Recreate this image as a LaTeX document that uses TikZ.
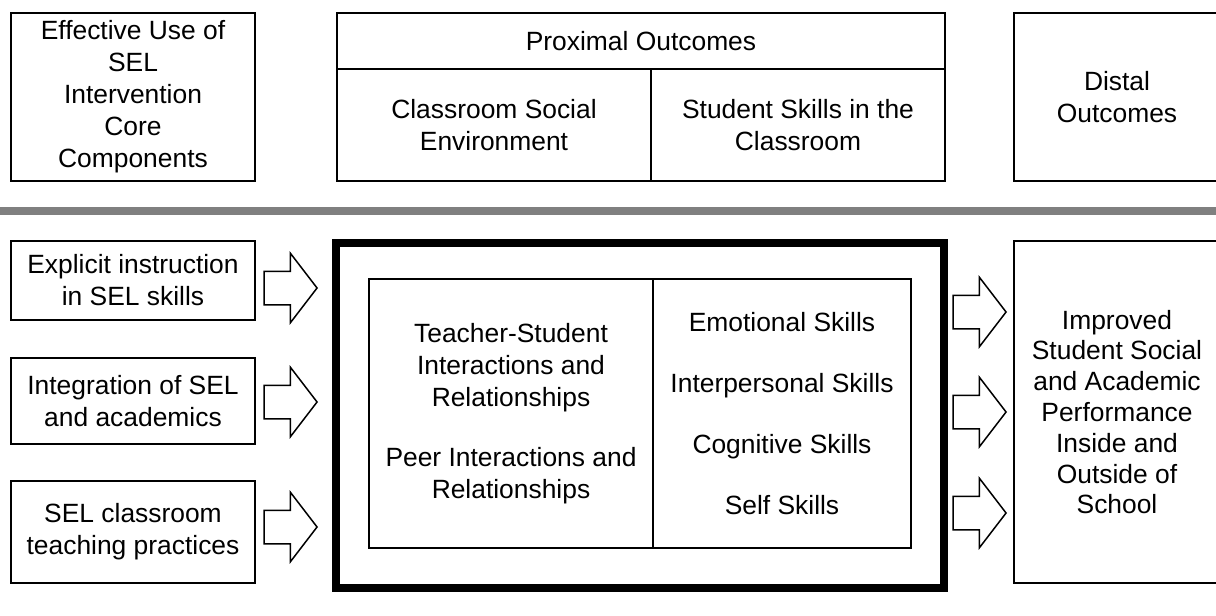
\documentclass[tikz,border=0pt]{standalone}
\usepackage{fontspec}
\setmainfont{Liberation Sans}
\usetikzlibrary{shapes.arrows}
\tikzset{
  box/.style={draw, line width=1pt, inner sep=0pt, align=center,
    font=\fontsize{13.2pt}{16pt}\selectfont},
  fat/.style={single arrow, draw, line width=0.75pt, inner xsep=0pt, inner ysep=8pt,
    minimum height=26.5pt, minimum width=34pt,
    single arrow head extend=9pt, single arrow tip angle=105, anchor=tip}
}
\begin{document}
\begin{tikzpicture}[x=0.5pt,y=-0.5pt]
  \useasboundingbox (0,0) rectangle (1216,616);
  \clip (0,0) rectangle (1216,616);
  % header row
  \node[box, minimum width=122pt, minimum height=84pt] (core) at (133,97)
    {Effective Use of\\SEL\\Intervention\\Core\\Components};
  \node[box, minimum width=304pt, minimum height=28pt] (prox) at (641,41)
    {Proximal Outcomes};
  \node[box, minimum width=157pt, minimum height=56pt] (env) at (494,125)
    {Classroom Social\\Environment};
  \node[box, minimum width=147pt, minimum height=56pt] (skills) at (798,125)
    {Student Skills in the\\Classroom};
  \node[box, minimum width=103pt, minimum height=84pt] (distal) at (1117,97)
    {Distal\\Outcomes};
  \draw[line width=4pt, color={rgb,255:red,128;green,128;blue,128}] (0,211) -- (1216,211);
  % components
  \node[box, minimum width=122pt, minimum height=39.5pt] (c1) at (133,280.5)
    {Explicit instruction\\in SEL skills};
  \node[box, minimum width=122pt, minimum height=43pt] (c2) at (133,401)
    {Integration of SEL\\and academics};
  \node[box, minimum width=122pt, minimum height=51pt] (c3) at (133,532)
    {SEL classroom\\teaching practices};
  \node[fat] (a1) at (318,288) {};
  \node[fat] (a2) at (318,402) {};
  \node[fat] (a3) at (318,527) {};
  % proximal outcomes
  \node[draw, line width=3.75pt, minimum width=304pt, minimum height=172.5pt] (frame) at (640,415.5) {};
  \node[box, minimum width=142pt, minimum height=134.5pt] (inter) at (511,413.5)
    {Teacher-Student\\Interactions and\\Relationships\\[14pt]Peer Interactions and\\Relationships};
  \node[box, minimum width=129pt, minimum height=134.5pt] (sk) at (782,413.5)
    {Emotional Skills\\[14.5pt]Interpersonal Skills\\[14.5pt]Cognitive Skills\\[14.5pt]Self Skills};
  \node[fat] (b1) at (1007,312) {};
  \node[fat] (b2) at (1007,412) {};
  \node[fat] (b3) at (1007,513) {};
  % distal outcomes
  \node[box, minimum width=103pt, minimum height=171pt, font=\fontsize{13.2pt}{15.4pt}\selectfont] (perf) at (1117,412)
    {Improved\\Student Social\\and Academic\\Performance\\Inside and\\Outside of\\School};
\end{tikzpicture}
\end{document}
